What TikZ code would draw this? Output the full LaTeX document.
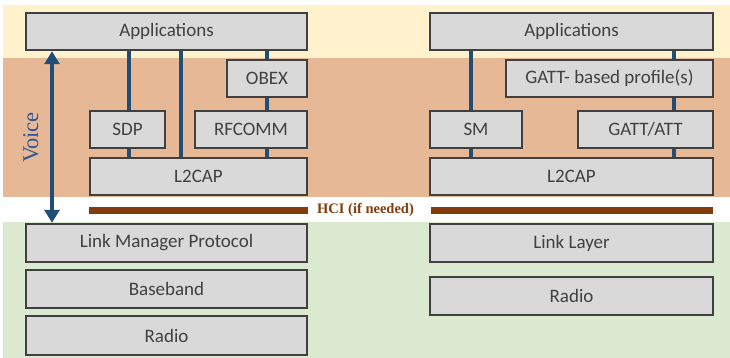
\documentclass[tikz,border=0pt]{standalone}
\usepackage{fontspec}
\setmainfont{Carlito}
\newfontfamily\serifff{Liberation Serif}
\usetikzlibrary{arrows.meta}
\definecolor{bandY}{RGB}{255,242,204}
\definecolor{bandO}{RGB}{231,184,150}
\definecolor{bandG}{RGB}{218,233,207}
\definecolor{boxfill}{RGB}{217,217,217}
\definecolor{boxline}{RGB}{64,64,64}
\definecolor{connblue}{RGB}{31,78,121}
\definecolor{voiceblue}{RGB}{47,85,151}
\definecolor{hcibrown}{RGB}{132,60,12}
\pgfdeclarelayer{bg}
\pgfdeclarelayer{mid}
\pgfsetlayers{bg,mid,main}
\tikzset{
  layerbox/.style={draw=boxline, line width=2.5pt, fill=boxfill, inner sep=0pt,
    text=boxline, font=\fontsize{19}{21}\selectfont},
  conn/.style={draw=connblue, line width=4pt},
  hcibar/.style={draw=hcibrown, line width=7pt},
}
\begin{document}
\begin{tikzpicture}[x=1pt,y=-1pt]
\useasboundingbox (0,0) rectangle (730,358);
\begin{pgfonlayer}{bg}
  \fill[white] (0,0) rectangle (730,358);
  \fill[bandY] (3,5) rectangle (730,58);
  \fill[bandO] (3,58) rectangle (730,197);
  \fill[bandG] (3,222) rectangle (730,358);
\end{pgfonlayer}
% left stack
\node[layerbox, minimum width=281pt, minimum height=37pt] (appL) at (166.5,31.5) {Applications};
\node[layerbox, minimum width=80pt, minimum height=37pt] (obex) at (267,78.5) {OBEX};
\node[layerbox, minimum width=75pt, minimum height=37pt] (sdp) at (127.5,129.5) {SDP};
\node[layerbox, minimum width=112pt, minimum height=37pt] (rfcomm) at (251,129.5) {RFCOMM};
\node[layerbox, minimum width=217pt, minimum height=37pt] (l2capL) at (198.5,176.5) {L2CAP};
\node[layerbox, minimum width=281pt, minimum height=38pt] (lmp) at (166.5,243) {Link Manager Protocol};
\node[layerbox, minimum width=281pt, minimum height=38pt] (bb) at (166.5,289) {Baseband};
\node[layerbox, minimum width=281pt, minimum height=39pt] (radioL) at (166.5,335.5) {Radio};
% right stack
\node[layerbox, minimum width=283pt, minimum height=37pt] (appR) at (571.5,31.5) {Applications};
\node[layerbox, minimum width=207pt, minimum height=37pt] (gattp) at (609.5,78.5) {GATT- based profile(s)};
\node[layerbox, minimum width=92pt, minimum height=37pt] (sm) at (476,129.5) {SM};
\node[layerbox, minimum width=135pt, minimum height=37pt] (gatt) at (645.5,129.5) {GATT/ATT};
\node[layerbox, minimum width=283pt, minimum height=37pt] (l2capR) at (571.5,176.5) {L2CAP};
\node[layerbox, minimum width=283pt, minimum height=38pt] (ll) at (571.5,243) {Link Layer};
\node[layerbox, minimum width=283pt, minimum height=38pt] (radioR) at (571.5,296) {Radio};
% HCI
\coordinate (hciL1) at (89,210);
\coordinate (hciL2) at (308,210);
\coordinate (hciR1) at (431,210);
\coordinate (hciR2) at (713,210);
\node[font=\serifff\bfseries\fontsize{14.5}{16}\selectfont, text=hcibrown, inner sep=0pt] (hci) at (365.5,210) {HCI (if needed)};
% Voice
\node[rotate=90, anchor=base, font=\serifff\fontsize{22.5}{24}\selectfont, text=voiceblue, inner sep=0pt] (voice) at (38,137.5) {Voice};
\begin{pgfonlayer}{mid}
  \draw[hcibar] (hciL1) -- (hciL2);
  \draw[hcibar] (hciR1) -- (hciR2);
  \draw[conn, {Triangle[width=15pt,length=13pt]}-{Triangle[width=15pt,length=13pt]}] (appL.south -| 52,0) -- (lmp.north -| 52,0);
  \draw[conn] (appL.south -| 129,0) -- (sdp.north -| 129,0);
  \draw[conn] (sdp.south -| 129,0) -- (l2capL.north -| 129,0);
  \draw[conn] (appL.south -| 181,0) -- (l2capL.north -| 181,0);
  \draw[conn] (appL.south -| obex.center) -- (obex.north);
  \draw[conn] (obex.south) -- (rfcomm.north -| obex.center);
  \draw[conn] (rfcomm.south -| obex.center) -- (l2capL.north -| obex.center);
  \draw[conn] (appR.south -| 471,0) -- (sm.north -| 471,0);
  \draw[conn] (sm.south -| 471,0) -- (l2capR.north -| 471,0);
  \draw[conn] (appR.south -| 674,0) -- (gattp.north -| 674,0);
  \draw[conn] (gattp.south -| 674,0) -- (gatt.north -| 674,0);
  \draw[conn] (gatt.south -| 674,0) -- (l2capR.north -| 674,0);
\end{pgfonlayer}
\end{tikzpicture}
\end{document}
